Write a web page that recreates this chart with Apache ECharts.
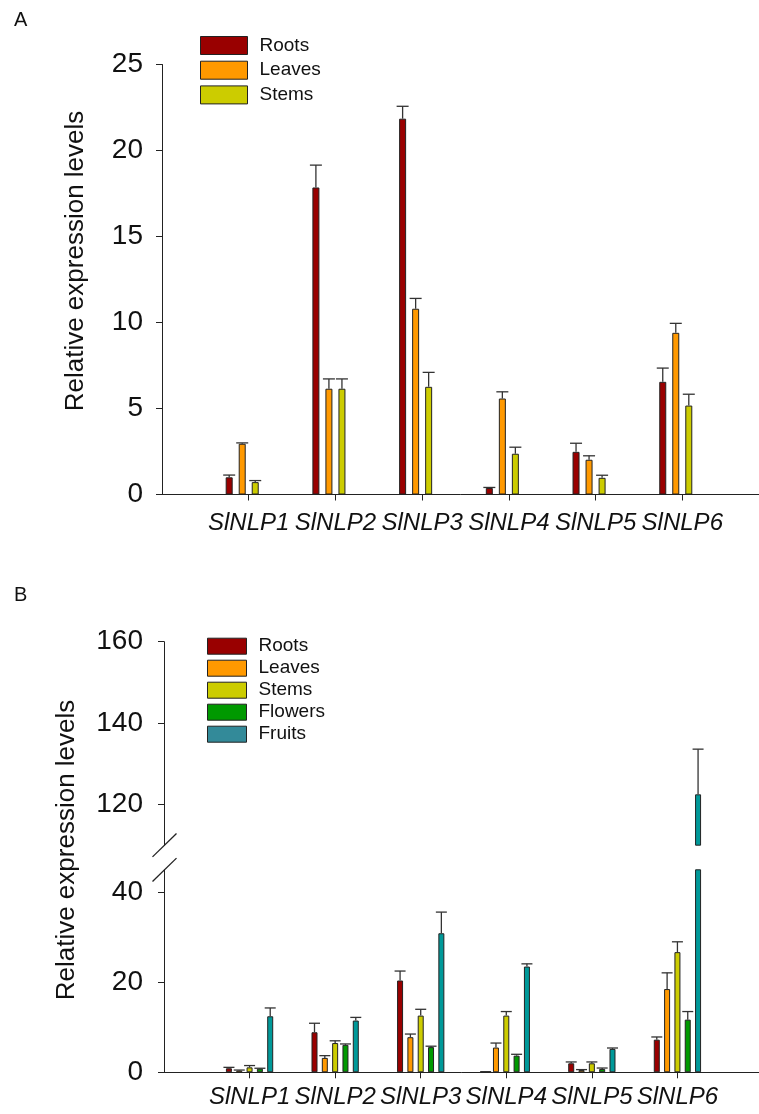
<!DOCTYPE html>
<html>
<head>
<meta charset="utf-8">
<style>html,body{margin:0;padding:0;background:#fff;}#chart{width:759px;height:1114px;}</style>
<script src="https://cdn.jsdelivr.net/npm/echarts@6/dist/echarts.min.js"></script>
</head>
<body>
<div id="chart"></div>
<script>
// gene names on the x axis
const genes = ['SlNLP1', 'SlNLP2', 'SlNLP3', 'SlNLP4', 'SlNLP5', 'SlNLP6'];

// panel A: means and error (upper SD) per tissue
const aRoots = [1.0, 17.85, 21.85, 0.38, 2.48, 6.55];
const aRootsErr = [0.13, 1.3, 0.72, 0.03, 0.5, 0.8];
const aLeaves = [2.95, 6.15, 10.8, 5.58, 2.02, 9.4];
const aLeavesErr = [0.05, 0.57, 0.6, 0.39, 0.23, 0.55];
const aStems = [0.72, 6.15, 6.26, 2.37, 0.97, 5.17];
const aStemsErr = [0.09, 0.57, 0.84, 0.38, 0.15, 0.66];

// panel B
const bRoots = [0.9, 8.9, 20.4, 0.15, 2.0, 7.25];
const bRootsErr = [0.2, 2.0, 2.1, 0, 0.3, 0.6];
const bLeaves = [0.4, 3.2, 7.8, 5.5, 0.5, 18.5];
const bLeavesErr = [0.1, 0.5, 0.7, 1.0, 0.1, 3.6];
const bStems = [1.1, 6.5, 12.6, 12.6, 2.0, 26.7];
const bStemsErr = [0.4, 0.5, 1.4, 0.9, 0.3, 2.3];
const bFlowers = [0.8, 6.1, 5.6, 3.7, 0.75, 11.7];
const bFlowersErr = [0.1, 0.2, 0.2, 0.3, 0.2, 1.8];
const bFruits = [12.45, 11.5, 30.9, 23.5, 5.2, 122.5];
const bFruitsErr = [1.85, 0.7, 4.7, 0.6, 0.2, 11.1];

// axis ticks
const aTicks = [0, 5, 10, 15, 20, 25];
const bLowTicks = [0, 20, 40];
const bHighTicks = [120, 140, 160];
const geneTicks = [1, 2, 3, 4, 5, 6];

const colors = {
  Roots: '#990000', Leaves: '#ff9900', Stems: '#cccc00',
  Flowers: '#009900', Fruits: '#009999'
};

const FONT = "'Liberation Sans', Arial, Helvetica, sans-serif";
const INK = '#111';
const LINE = '#222';

// layout
const A = { left: 162, top: 64.5, height: 430, width: 607, barW: 7, gap: 0.86, slots: 4, cap: 6 };
const B = { left: 164, width: 599, barW: 6, gap: 0.72, slots: 5, cap: 5.5 };
const bHigh = { top: 641.7, height: 203.5, min: 110, max: 160 };
const bLow = { top: 869.8, height: 202.5, min: 0, max: 45 };

function pairs(values, keep) {
  return values.map((v, i) => (keep ? keep(v) : true) ? [i + 1, v] : [i + 1, '-']);
}

function barSeries(name, values, axis, barW, gap, keep) {
  return {
    type: 'bar', name: name,
    xAxisIndex: axis, yAxisIndex: axis,
    data: pairs(values, keep),
    barWidth: barW, barGap: Math.round(gap * 100) + '%',
    clip: true,
    itemStyle: { color: colors[name], borderColor: LINE, borderWidth: 1 },
    emphasis: { disabled: true }
  };
}

function errSeries(values, errs, axis, slot, cfg, lo, hi) {
  const pitch = cfg.barW * (1 + cfg.gap);
  const offset = (slot - (cfg.slots - 1) / 2) * pitch;
  return {
    type: 'custom', xAxisIndex: axis, yAxisIndex: axis, silent: true,
    data: values.map((v, i) => [i + 1, v, errs[i]]),
    encode: { x: 0, y: 1 },
    z: 3,
    renderItem: function (params, api) {
      const x = api.value(0), m = api.value(1), e = api.value(2);
      if (m <= lo || m > hi) return null;
      const base = api.coord([x, m]);
      const top = api.coord([x, m + e]);
      const cx = base[0] + offset;
      const st = { stroke: '#333', lineWidth: 1.3 };
      return {
        type: 'group', children: [
          { type: 'line', shape: { x1: cx, y1: base[1], x2: cx, y2: top[1] }, style: st },
          { type: 'line', shape: { x1: cx - cfg.cap, y1: top[1], x2: cx + cfg.cap, y2: top[1] }, style: st }
        ]
      };
    }
  };
}

function geneAxis(grid, show, labelMargin) {
  return {
    type: 'value', gridIndex: grid, min: 0, max: 7, interval: 1,
    axisLine: { show: show, lineStyle: { color: LINE, width: 1 } },
    axisTick: { show: show, customValues: geneTicks, inside: false, length: 6, lineStyle: { color: LINE } },
    axisLabel: {
      show: show, customValues: geneTicks, margin: labelMargin,
      formatter: v => genes[v - 1] || '',
      fontFamily: FONT, fontStyle: 'italic', fontSize: 24, color: INK
    },
    splitLine: { show: false }
  };
}

function levelAxis(grid, min, max, ticks, labelMargin) {
  return {
    type: 'value', gridIndex: grid, min: min, max: max,
    axisLine: { show: true, onZero: false, lineStyle: { color: LINE, width: 1 } },
    axisTick: { show: true, customValues: ticks, length: 6, lineStyle: { color: LINE } },
    axisLabel: { customValues: ticks, margin: labelMargin, fontFamily: FONT, fontSize: 28, color: INK },
    splitLine: { show: false }
  };
}

const series = [
  barSeries('Roots', aRoots, 0, A.barW, A.gap),
  barSeries('Leaves', aLeaves, 0, A.barW, A.gap),
  barSeries('Stems', aStems, 0, A.barW, A.gap),
  // empty fourth slot, as in the original plot layout
  { type: 'bar', name: 'pad', xAxisIndex: 0, yAxisIndex: 0, data: [], barWidth: A.barW, barGap: Math.round(A.gap * 100) + '%' },
  errSeries(aRoots, aRootsErr, 0, 0, A, -1, 99),
  errSeries(aLeaves, aLeavesErr, 0, 1, A, -1, 99),
  errSeries(aStems, aStemsErr, 0, 2, A, -1, 99)
];

const bNames = ['Roots', 'Leaves', 'Stems', 'Flowers', 'Fruits'];
const bVals = [bRoots, bLeaves, bStems, bFlowers, bFruits];
const bErrs = [bRootsErr, bLeavesErr, bStemsErr, bFlowersErr, bFruitsErr];
bNames.forEach((n, k) => {
  series.push(barSeries(n, bVals[k], 1, B.barW, B.gap, v => v > bHigh.min));
  series.push(barSeries(n, bVals[k], 2, B.barW, B.gap));
  series.push(errSeries(bVals[k], bErrs[k], 1, k, B, bHigh.min, 999));
  series.push(errSeries(bVals[k], bErrs[k], 2, k, B, -1, bLow.max));
});

function legendCfg(names, left, top, w, h, gap, extra) {
  return {
    orient: 'vertical', left: left, top: top, padding: 0,
    itemWidth: w, itemHeight: h, itemGap: gap, icon: 'rect',
    selectedMode: false,
    itemStyle: { borderColor: LINE, borderWidth: 1 },
    textStyle: { fontFamily: FONT, fontSize: 19, color: INK, lineHeight: h, padding: [0, 0, 0, 7] },
    data: names.map(n => (extra && extra[n]) ? { name: n, itemStyle: extra[n] } : n)
  };
}

// break marks on panel B's y axis, at the ends of both segments
function slash(y) {
  return {
    type: 'line', silent: true,
    shape: { x1: B.left - 11.5, y1: y + 11.7, x2: B.left + 12.5, y2: y - 11.7 },
    style: { stroke: LINE, lineWidth: 1.3 }
  };
}

function axisName(x, y) {
  return {
    type: 'text', x: x, y: y, rotation: Math.PI / 2, silent: true,
    style: {
      text: 'Relative expression levels', font: '26px ' + FONT, fill: INK,
      align: 'center', verticalAlign: 'middle', textAlign: 'center', textVerticalAlign: 'middle'
    }
  };
}

const option = {
  animation: false,
  backgroundColor: '#fff',
  title: [
    { text: 'A', left: 14, top: 10, padding: 0, textStyle: { fontFamily: FONT, fontSize: 20, fontWeight: 'normal', color: INK } },
    { text: 'B', left: 14, top: 585, padding: 0, textStyle: { fontFamily: FONT, fontSize: 20, fontWeight: 'normal', color: INK } }
  ],
  legend: [
    legendCfg(['Roots', 'Leaves', 'Stems'], 200, 36, 47, 18, 5.7),
    legendCfg(bNames, 207, 636.7, 39, 16, 3, { Fruits: { color: '#338a99' } })
  ],
  grid: [
    { left: A.left, top: A.top, width: A.width, height: A.height, containLabel: false, outerBoundsMode: 'none' },
    { left: B.left, top: bHigh.top, width: B.width, height: bHigh.height, containLabel: false, outerBoundsMode: 'none' },
    { left: B.left, top: bLow.top, width: B.width, height: bLow.height, containLabel: false, outerBoundsMode: 'none' }
  ],
  xAxis: [geneAxis(0, true, 17), geneAxis(1, false, 0), geneAxis(2, true, 13)],
  yAxis: [
    Object.assign(levelAxis(0, 0, 25, aTicks, 19), { interval: 5 }),
    levelAxis(1, bHigh.min, bHigh.max, bHighTicks, 21),
    levelAxis(2, bLow.min, bLow.max, bLowTicks, 21)
  ],
  graphic: [
    axisName(76, 261),
    axisName(67, 850),
    slash(bHigh.top + bHigh.height),
    slash(bLow.top)
  ],
  series: series
};

const chart = echarts.init(document.getElementById('chart'), null, { renderer: 'canvas' });
chart.setOption(option);
</script>
</body>
</html>
